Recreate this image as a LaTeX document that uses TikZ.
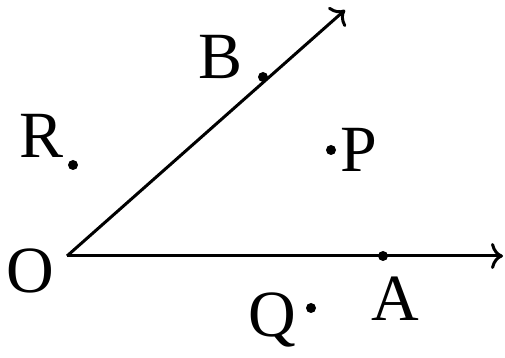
\documentclass[tikz,border=0pt]{standalone}
\usepackage{fontspec}
\setmainfont{Liberation Serif}
\usetikzlibrary{arrows.meta}
\begin{document}
\begin{tikzpicture}[x=1pt,y=1pt,
  lbl/.style={inner sep=0pt,font=\fontsize{66}{66}\selectfont},
  pt/.style={circle,fill=black,inner sep=0pt,minimum size=10pt},
  ray/.style={line width=3pt,-{To[length=12pt,width=26pt,line width=3pt]}}]
\useasboundingbox (0,0) rectangle (505,358);
\coordinate (O) at (67,102);
\coordinate (Aend) at (503,102);
\coordinate (Bend) at (345,348);
\node[pt] (A) at (383,102) {};
\node[pt] (B) at (263,281) {};
\node[pt] (R) at (73,193) {};
\node[pt] (P) at (331,208) {};
\node[pt] (Q) at (311,50) {};
\node[lbl] (Ol) at (30,87) {O};
\node[lbl] (Al) at (395,59) {A};
\node[lbl] (Bl) at (221,301) {B};
\node[lbl] (Rl) at (42,222) {R};
\node[lbl] (Pl) at (359,208) {P};
\node[lbl] (Ql) at (272,38) {Q};
\draw[ray] (O) -- (Aend);
\draw[ray] (O) -- (Bend);
\end{tikzpicture}
\end{document}
